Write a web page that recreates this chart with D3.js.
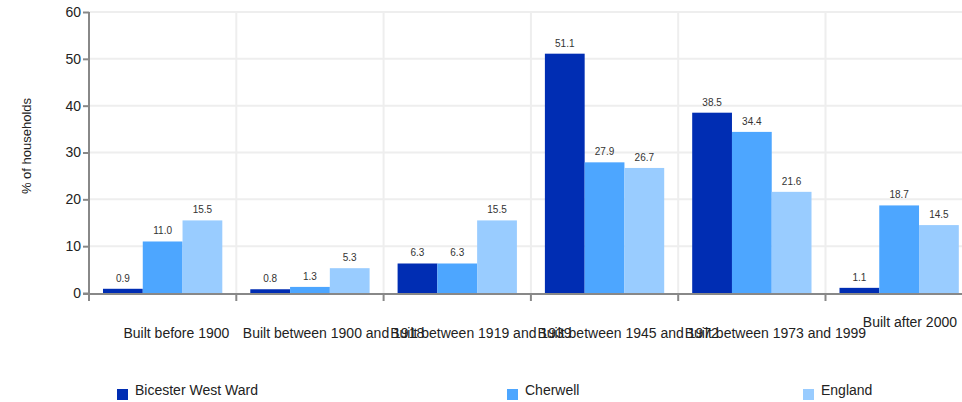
<!DOCTYPE html>
<html>
<head>
<meta charset="utf-8">
<script src="https://cdn.jsdelivr.net/npm/d3@7"></script>
<style>
  body { margin: 0; background: #fff; }
  text { font-family: Arial, "Liberation Sans", sans-serif; }
</style>
</head>
<body>
<svg id="chart" width="962" height="402"></svg>
<script>
const categories = ["Built before 1900", "Built between 1900 and 1918", "Built between 1919 and 1939",
    "Built between 1945 and 1972", "Built between 1973 and 1999", "Built after 2000"]
const seriesNames = ["Bicester West Ward", "Cherwell", "England"]
const bicesterWest = [0.9, 0.8, 6.3, 51.1, 38.5, 1.1]
const cherwell = [11.0, 1.3, 6.3, 27.9, 34.4, 18.7]
const england = [15.5, 5.3, 15.5, 26.7, 21.6, 14.5]
const yTicks = [0, 10, 20, 30, 40, 50, 60]

const colors = ["#002db3", "#4da6ff", "#99ccff"]
const seriesValues = [bicesterWest, cherwell, england]

let svg = d3.select("#chart")
let plotLeft = 89, plotTop = 12, plotBottom = 293
let bandW = 147.3

// scales
let x0 = d3.scaleBand().domain(categories).range([plotLeft, plotLeft + bandW * categories.length])
let x1 = d3.scaleBand().domain(seriesNames).range([bandW * 0.095, bandW * 0.905])
let y = d3.scaleLinear().domain([0, 60]).range([plotBottom, plotTop])

// grid
let grid = svg.append("g").attr("class", "grid")
grid.selectAll("line.h").data(yTicks.slice(1))
    .enter().append("line")
    .attr("x1", plotLeft).attr("x2", 962)
    .attr("y1", d => y(d)).attr("y2", d => y(d))
    .style("stroke", "#eeeeee").style("stroke-width", 2)
grid.selectAll("line.v").data(categories.slice(1))
    .enter().append("line")
    .attr("x1", d => x0(d)).attr("x2", d => x0(d))
    .attr("y1", plotTop).attr("y2", plotBottom)
    .style("stroke", "#eeeeee").style("stroke-width", 2)

// bars
let groups = svg.append("g").selectAll("g")
    .data(categories)
    .enter().append("g")
    .attr("transform", d => "translate(" + x0(d) + ",0)")

groups.selectAll("rect")
    .data((d, i) => seriesNames.map((s, j) => ({ s: s, v: seriesValues[j][i], j: j })))
    .enter().append("rect")
    .attr("x", d => x1(d.s))
    .attr("width", x1.bandwidth())
    .attr("y", d => y(d.v))
    .attr("height", d => y(0) - y(d.v))
    .attr("fill", d => colors[d.j])

groups.selectAll("text")
    .data((d, i) => seriesNames.map((s, j) => ({ s: s, v: seriesValues[j][i] })))
    .enter().append("text")
    .attr("x", d => x1(d.s) + x1.bandwidth() / 2)
    .attr("y", d => y(d.v) - 7)
    .attr("text-anchor", "middle")
    .style("font-size", "10px")
    .style("fill", "#333")
    .text(d => d.v.toFixed(1))

// y axis
let yAxis = svg.append("g")
    .attr("transform", "translate(" + plotLeft + ",0)")
    .call(d3.axisLeft(y).tickValues(yTicks).tickSize(6).tickPadding(2))
yAxis.select(".domain").attr("d", "M0," + plotTop + "V" + (plotBottom + 1))
yAxis.selectAll("path, line").style("stroke", "#888").style("stroke-width", 2)
yAxis.selectAll("text").style("font-size", "14px").style("fill", "#222")

// x axis
let xAxis = svg.append("g")
xAxis.append("line")
    .attr("x1", plotLeft - 6).attr("x2", 962)
    .attr("y1", plotBottom + 1).attr("y2", plotBottom + 1)
    .style("stroke", "#888").style("stroke-width", 2)
xAxis.selectAll("line.tick").data(categories)
    .enter().append("line")
    .attr("x1", d => x0(d)).attr("x2", d => x0(d))
    .attr("y1", plotBottom + 1).attr("y2", plotBottom + 8)
    .style("stroke", "#888").style("stroke-width", 2)

xAxis.selectAll("text").data(categories)
    .enter().append("text")
    .attr("text-anchor", "middle")
    .attr("y", (d, i) => i == categories.length - 1 ? 327 : 338)
    .style("font-size", "14px")
    .style("fill", "#222")
    .text(d => d)
    .attr("x", function (d, i) {
        let w = this.getComputedTextLength()
        let cx = x0(d) + x0.bandwidth() / 2 + w * 0.13
        if (cx + w / 2 > 957) cx = 957 - w / 2
        return cx
    })

// y label
svg.append("text")
    .attr("transform", "translate(31,146)rotate(-90)")
    .attr("text-anchor", "middle")
    .style("font-size", "13px")
    .style("fill", "#222")
    .text("% of households")

// legend
let legendX = [117, 507, 803]
let legend = svg.append("g").selectAll("g")
    .data(seriesNames)
    .enter().append("g")
    .attr("transform", (d, i) => "translate(" + legendX[i] + ",389)")
legend.append("rect")
    .attr("width", 11).attr("height", 11)
    .attr("fill", (d, i) => colors[i])
legend.append("text")
    .attr("x", 18).attr("y", 6)
    .style("font-size", "14px")
    .style("fill", "#222")
    .text(d => d)
</script>
</body>
</html>
